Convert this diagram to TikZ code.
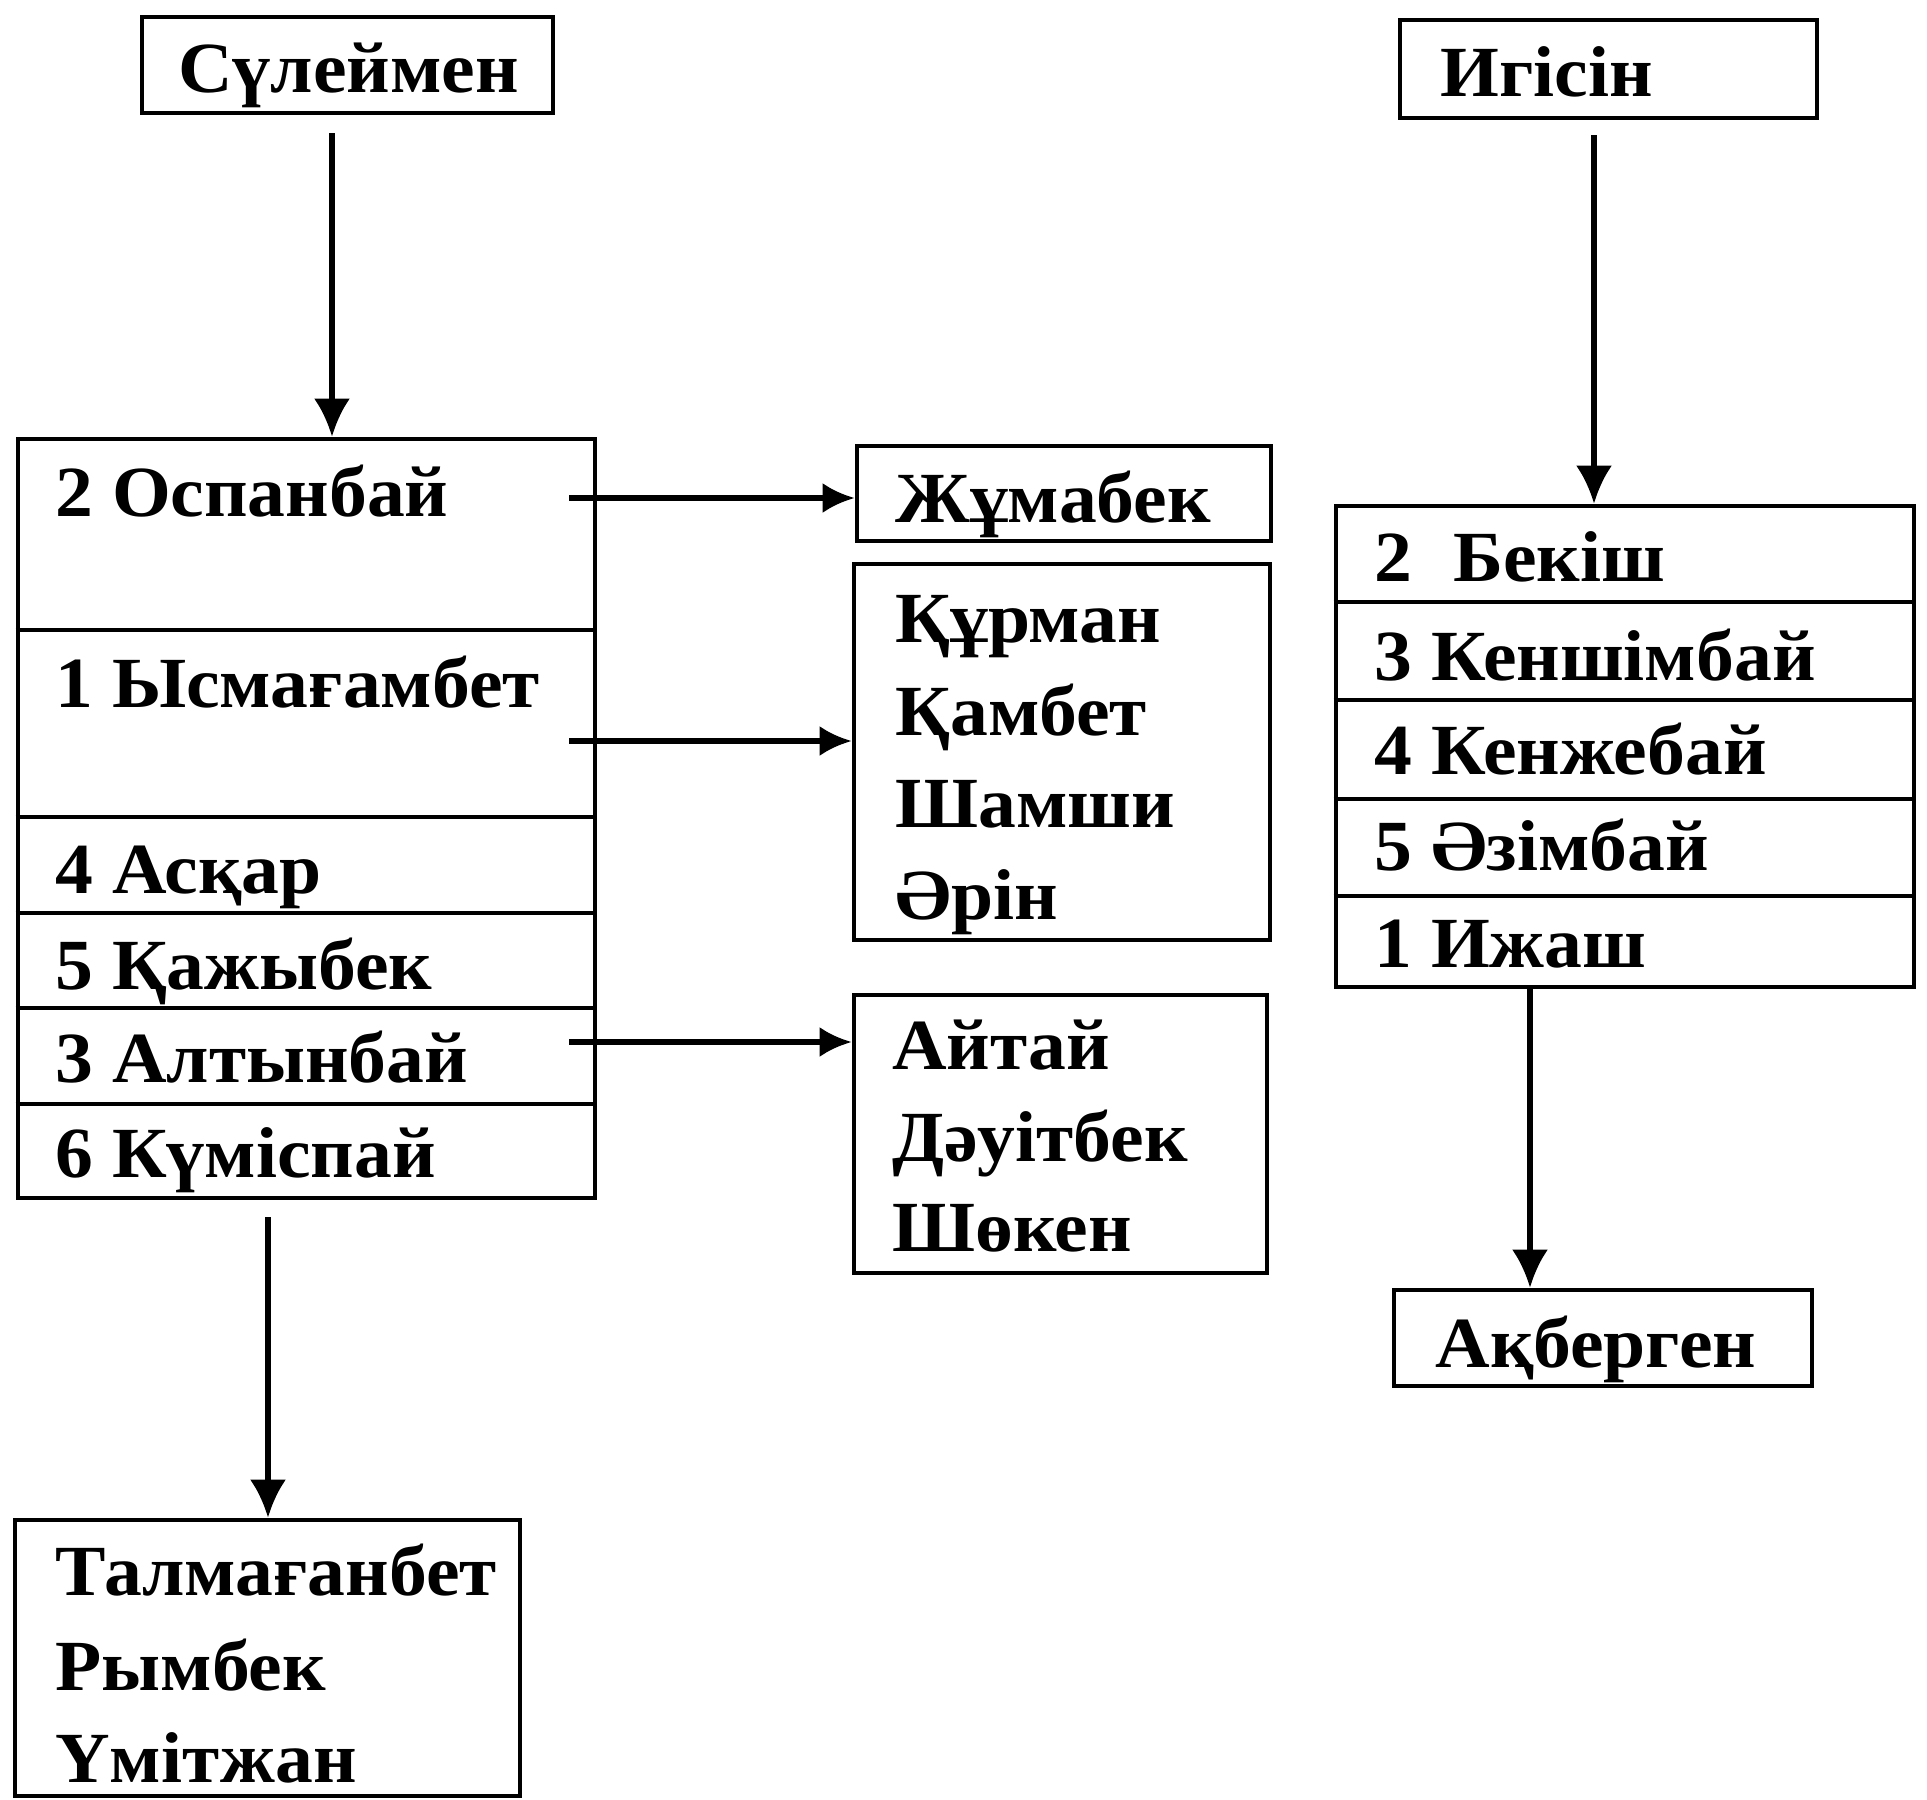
\documentclass[tikz,border=0pt]{standalone}
\usepackage{fontspec}
\setmainfont{Liberation Serif}[FakeStretch=1.05]
\usetikzlibrary{arrows.meta,fit}
\tikzset{
  box/.style={draw, line width=2.3pt, inner sep=0pt},
  lbl/.style={anchor=base west, inner sep=0pt, font=\fontsize{36}{42}\selectfont\bfseries},
  varr/.style={line width=2.6pt, -{Latex[length=19pt,width=18pt]}},
  harr/.style={line width=2.6pt, -{Latex[length=16pt,width=15pt]}},
  divider/.style={line width=2.3pt}
}
\begin{document}
\begin{tikzpicture}[x=0.5pt,y=-0.5pt]
\useasboundingbox[fill=white] (0,0) rectangle (1927,1799);

% ---- left column ----
\node[box, fit={(142,17) (553,113)}] (sul) {};
\node[lbl] (tsul) at (178,92) {Сүлеймен};

\node[box, fit={(18,439) (595,1198)}] (left) {};
\foreach \yy in {630,817,913,1008,1104}
  \draw[divider] (left.west |- 0,\yy) -- (left.east |- 0,\yy);
\node[lbl] (l1) at (55,516)  {2 Оспанбай};
\node[lbl] (l2) at (55,707)  {1 Ысмағамбет};
\node[lbl] (l3) at (55,893)  {4 Асқар};
\node[lbl] (l4) at (55,989)  {5 Қажыбек};
\node[lbl] (l5) at (55,1082) {3 Алтынбай};
\node[lbl] (l6) at (55,1177) {6 Күміспай};

\node[box, fit={(15,1520) (520,1796)}] (bot) {};
\node[lbl] (b1) at (55,1595) {Талмағанбет};
\node[lbl] (b2) at (55,1690) {Рымбек};
\node[lbl] (b3) at (55,1782) {Үмітжан};

% ---- middle column ----
\node[box, fit={(857,446) (1271,541)}] (jum) {};
\node[lbl] (tjum) at (895,522) {Жұмабек};

\node[box, fit={(854,564) (1270,940)}] (kur) {};
\node[lbl] (k1) at (895,642) {Құрман};
\node[lbl] (k2) at (895,735) {Қамбет};
\node[lbl] (k3) at (895,827) {Шамши};
\node[lbl] (k4) at (895,919) {Әрін};

\node[box, fit={(854,995) (1267,1273)}] (ait) {};
\node[lbl] (a1) at (892,1069) {Айтай};
\node[lbl] (a2) at (892,1161) {Дәуітбек};
\node[lbl] (a3) at (892,1251) {Шөкен};

% ---- right column ----
\node[box, fit={(1400,20) (1817,118)}] (igi) {};
\node[lbl] (tigi) at (1440,96) {Игісін};

\node[box, fit={(1336,506) (1914,987)}] (right) {};
\foreach \yy in {602,700,799,896}
  \draw[divider] (right.west |- 0,\yy) -- (right.east |- 0,\yy);
\node[lbl] (r1) at (1374,581) {2\hspace{11pt} Бекіш};
\node[lbl] (r2) at (1374,680) {3 Кеншімбай};
\node[lbl] (r3) at (1374,774) {4 Кенжебай};
\node[lbl] (r4) at (1374,870) {5 Әзімбай};
\node[lbl] (r5) at (1374,967) {1 Ижаш};

\node[box, fit={(1394,1290) (1812,1386)}] (akb) {};
\node[lbl] (takb) at (1435,1367) {Ақберген};

% ---- connectors ----
\coordinate (s1) at (332,133);
\draw[varr] (s1) -- (s1 |- left.north);
\coordinate (s2) at (268,1217);
\draw[varr] (s2) -- (s2 |- bot.north);
\coordinate (s3) at (1594,135);
\draw[varr] (s3) -- (s3 |- right.north);
\coordinate (s4) at (1530,987);
\draw[varr] (s4) -- (s4 |- akb.north);
\coordinate (h1) at (569,498);
\draw[harr] (h1) -- (h1 -| jum.west);
\coordinate (h2) at (569,741);
\draw[harr] (h2) -- (h2 -| kur.west);
\coordinate (h3) at (569,1042);
\draw[harr] (h3) -- (h3 -| ait.west);
\end{tikzpicture}
\end{document}
